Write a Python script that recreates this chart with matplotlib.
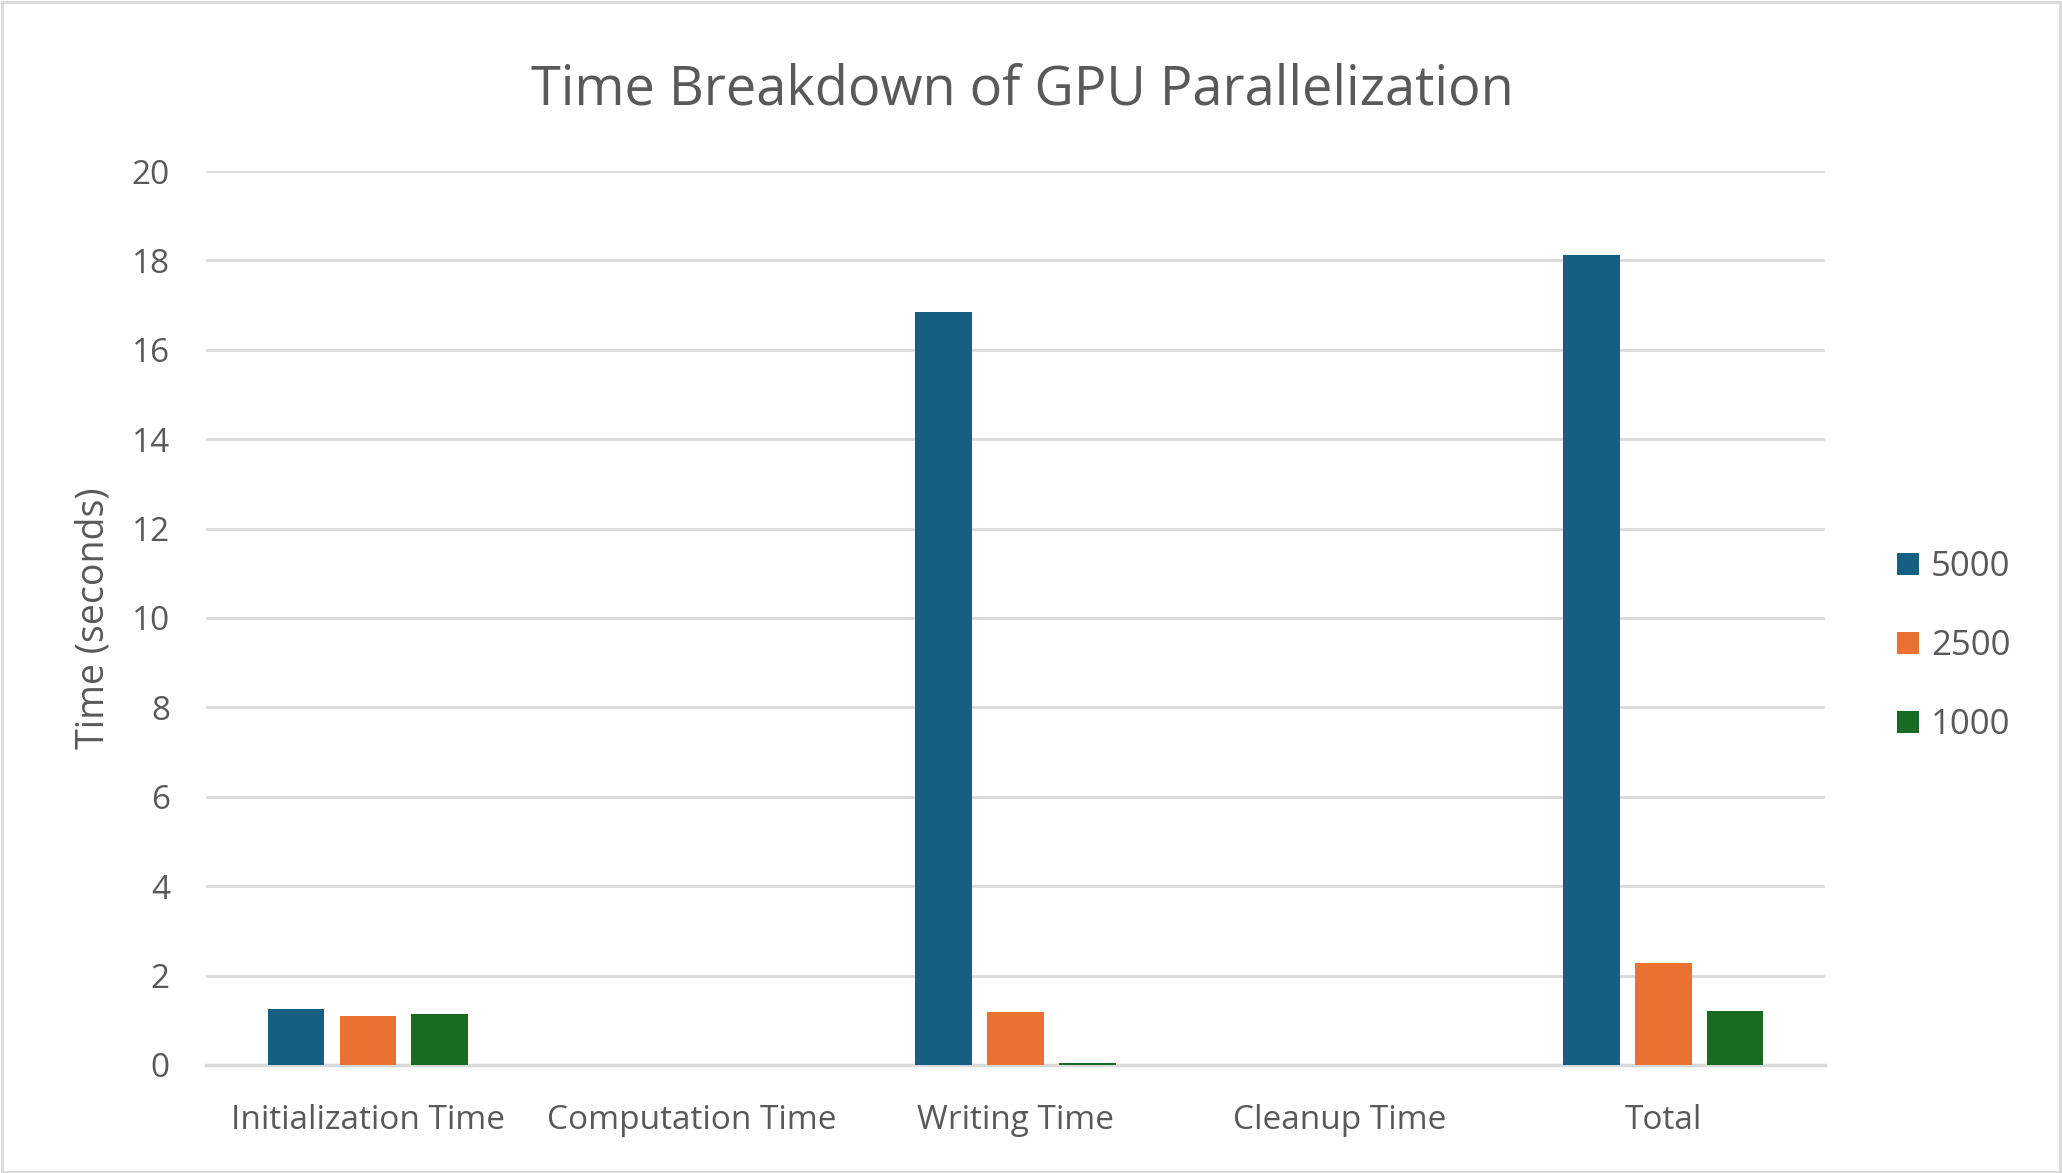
import numpy as np
import matplotlib.pyplot as plt
from matplotlib.patches import Patch

categories = ['Initialization Time', 'Computation Time', 'Writing Time', 'Cleanup Time', 'Total']
series_names = ['5000', '2500', '1000']
vals_5000 = [1.25, 0.0, 16.85, 0.0, 18.12]
vals_2500 = [1.10, 0.0, 1.18, 0.0, 2.29]
vals_1000 = [1.14, 0.0, 0.05, 0.0, 1.21]
colors = ['#156082', '#E97132', '#196B24']
yticks = [0, 2, 4, 6, 8, 10, 12, 14, 16, 18, 20]

plt.rcParams['font.family'] = ['Open Sans', 'DejaVu Sans']
txt = '#595959'

fig = plt.figure(figsize=(20.62, 11.73), dpi=100)
ax = fig.add_axes([0.0999, 0.0921, 0.7852, 0.7621])

x = np.arange(len(categories))
width = 0.175
step = 0.222
for i, (vals, c) in enumerate(zip([vals_5000, vals_2500, vals_1000], colors)):
    ax.bar(x + (i - 1) * step, vals, width, color=c, zorder=3)

ax.set_xlim(-0.5, len(categories) - 0.5)
ax.set_ylim(0, 20)
ax.set_yticks(yticks)
ax.set_xticks(x)
ax.set_xticklabels(categories)
ax.grid(axis='y', color='#D9D9D9', linewidth=2, zorder=0)
for s in ['top', 'right', 'left']:
    ax.spines[s].set_visible(False)
ax.spines['bottom'].set_color('#D9D9D9')
ax.spines['bottom'].set_linewidth(2.5)
ax.tick_params(axis='both', length=0, labelsize=24, labelcolor=txt)
ax.tick_params(axis='y', pad=26)
ax.tick_params(axis='x', pad=28)
ax.set_ylabel('Time (seconds)', fontsize=27, color=txt, labelpad=14)

fig.suptitle('Time Breakdown of GPU Parallelization', fontsize=39, color=txt,
             x=0.496, y=0.923, va='center')

handles = [Patch(facecolor=c) for c in colors]
fig.legend(handles, series_names, loc='center left', bbox_to_anchor=(0.905, 0.449),
           frameon=False, fontsize=25, labelcolor=txt, handlelength=0.62, handleheight=0.62,
           handletextpad=0.35, labelspacing=1.3)

border = plt.Rectangle((0.001, 0.001), 0.998, 0.997, transform=fig.transFigure,
                       fill=False, edgecolor='#D9D9D9', linewidth=2)
fig.patches.append(border)

fig.savefig('out.png', dpi=100)
